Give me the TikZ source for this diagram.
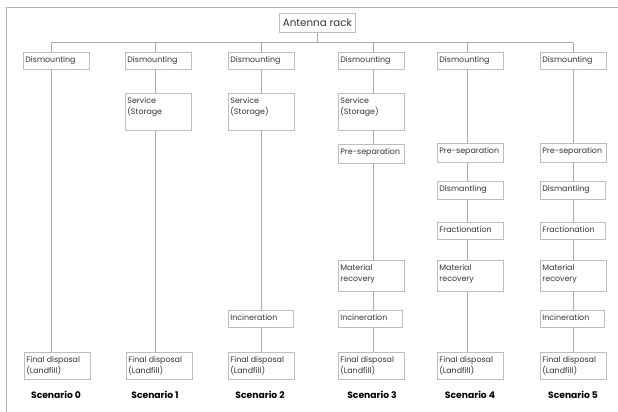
\documentclass[tikz,border=0pt]{standalone}
\usepackage{fontspec}
\setmainfont{Poppins}
\definecolor{framegray}{HTML}{B4B4B4}
\definecolor{boxgray}{HTML}{BDBDBD}
\definecolor{linegray}{HTML}{AAAAAA}
\definecolor{inkgray}{HTML}{333333}
% top-aligned, left-aligned text of fixed width and height
\newcommand\celltext[3]{\parbox[t][#2][t]{#1}{\vspace*{1.6pt}\raggedright #3}}
\begin{document}
\begin{tikzpicture}[x=1pt,y=-1pt,
  bx/.style={draw=boxgray, line width=0.8pt, fill=white, anchor=north west,
    inner xsep=2pt, inner ysep=2.5pt, text=inkgray,
    font=\fontsize{7.9}{10.5}\selectfont},
  link/.style={draw=linegray, line width=1pt},
  scen/.style={text=black, font=\fontsize{9.2}{11}\selectfont\bfseries}]
\useasboundingbox (0,0) rectangle (618,412);
% frame
\draw[framegray, line width=0.9pt] (6,412) -- (6,7) -- (618,7);

% column axes
\coordinate (c0) at (51,0);
\coordinate (c1) at (155,0);
\coordinate (c2) at (261,0);
\coordinate (c3) at (373,0);
\coordinate (c4) at (467,0);
\coordinate (c5) at (573,0);
\coordinate (bus) at (0,43);

% root
\node[draw=boxgray, line width=0.8pt, anchor=north west, minimum width=76pt,
  minimum height=19pt, inner sep=1pt, text=inkgray,
  font=\fontsize{10.3}{12}\selectfont] (rack) at (279,13) {Antenna rack};

% Scenario 0
\node[bx] (d0) at (23,52) {\celltext{62pt}{12pt}{Dismounting}};
\node[bx] (f0) at (24,352) {\celltext{62pt}{22pt}{Final disposal\\(Landfill)}};
% Scenario 1
\node[bx] (d1) at (125,52) {\celltext{62pt}{12pt}{Dismounting}};
\node[bx] (v1) at (125,93) {\celltext{62pt}{32pt}{Service\\(Storage}};
\node[bx] (f1) at (126,352) {\celltext{62pt}{22pt}{Final disposal\\(Landfill)}};
% Scenario 2
\node[bx] (d2) at (228,52) {\celltext{62pt}{12pt}{Dismounting}};
\node[bx] (v2) at (228,93) {\celltext{62pt}{32pt}{Service\\(Storage)}};
\node[bx] (i2) at (228,309.5) {\celltext{61pt}{12pt}{Incineration}};
\node[bx] (f2) at (228,352) {\celltext{62pt}{22pt}{Final disposal\\(Landfill)}};
% Scenario 3
\node[bx] (d3) at (338,52) {\celltext{62pt}{12pt}{Dismounting}};
\node[bx] (v3) at (338,93) {\celltext{62pt}{32pt}{Service\\(Storage)}};
\node[bx] (p3) at (338,144) {\celltext{62pt}{14pt}{Pre-separation}};
\node[bx] (m3) at (338,260) {\celltext{62pt}{26pt}{Material\\recovery}};
\node[bx] (i3) at (338,309.5) {\celltext{60pt}{12pt}{Incineration}};
\node[bx] (f3) at (338,352) {\celltext{62pt}{22pt}{Final disposal\\(Landfill)}};
% Scenario 4
\node[bx] (d4) at (437,52) {\celltext{62pt}{12pt}{Dismounting}};
\node[bx] (p4) at (437,143) {\celltext{62pt}{14pt}{Pre-separation}};
\node[bx] (t4) at (437,181) {\celltext{62pt}{13pt}{Dismantling}};
\node[bx] (r4) at (437,222) {\celltext{62pt}{12pt}{Fractionation}};
\node[bx] (m4) at (437,260) {\celltext{62pt}{26pt}{Material\\recovery}};
\node[bx] (f4) at (437,352) {\celltext{62pt}{22pt}{Final disposal\\(Landfill)}};
% Scenario 5
\node[bx] (d5) at (540,52) {\celltext{62pt}{12pt}{Dismounting}};
\node[bx] (p5) at (540,143) {\celltext{62pt}{14pt}{Pre-separation}};
\node[bx] (t5) at (540,181) {\celltext{61pt}{13pt}{Dismantling}};
\node[bx] (r5) at (540,222) {\celltext{61pt}{12pt}{Fractionation}};
\node[bx] (m5) at (540,260) {\celltext{62pt}{26pt}{Material\\recovery}};
\node[bx] (i5) at (540,309.5) {\celltext{60pt}{12pt}{Incineration}};
\node[bx] (f5) at (540,352) {\celltext{62pt}{22pt}{Final disposal\\(Landfill)}};

% scenario captions
\node[scen] (s0) at (56,395) {Scenario 0};
\node[scen] (s1) at (155,395) {Scenario 1};
\node[scen] (s2) at (260,395) {Scenario 2};
\node[scen] (s3) at (372,395) {Scenario 3};
\node[scen] (s4) at (470,395) {Scenario 4};
\node[scen] (s5) at (573,395) {Scenario 5};

% distribution bus from the root
\path[link] (rack.south) -- (rack.south |- bus);
\path[link] (c0 |- bus) -- (c5 |- bus);
\foreach \k in {0,...,5}
  \path[link] (c\k |- bus) -- (d\k.north -| c\k);

% process chains
\path[link] (d0.south -| c0) -- (f0.north -| c0);

\path[link] (d1.south -| c1) -- (v1.north -| c1);
\path[link] (v1.south -| c1) -- (f1.north -| c1);

\path[link] (d2.south -| c2) -- (v2.north -| c2);
\path[link] (v2.south -| c2) -- (i2.north -| c2);
\path[link] (i2.south -| c2) -- (f2.north -| c2);

\path[link] (d3.south -| c3) -- (v3.north -| c3);
\path[link] (v3.south -| c3) -- (p3.north -| c3);
\path[link] (p3.south -| c3) -- (m3.north -| c3);
\path[link] (m3.south -| c3) -- (i3.north -| c3);
\path[link] (i3.south -| c3) -- (f3.north -| c3);

\path[link] (d4.south -| c4) -- (p4.north -| c4);
\path[link] (p4.south -| c4) -- (t4.north -| c4);
\path[link] (t4.south -| c4) -- (r4.north -| c4);
\path[link] (r4.south -| c4) -- (m4.north -| c4);
\path[link] (m4.south -| c4) -- (f4.north -| c4);

\path[link] (d5.south -| c5) -- (p5.north -| c5);
\path[link] (p5.south -| c5) -- (t5.north -| c5);
\path[link] (t5.south -| c5) -- (r5.north -| c5);
\path[link] (r5.south -| c5) -- (m5.north -| c5);
\path[link] (m5.south -| c5) -- (i5.north -| c5);
\path[link] (i5.south -| c5) -- (f5.north -| c5);
\end{tikzpicture}
\end{document}
